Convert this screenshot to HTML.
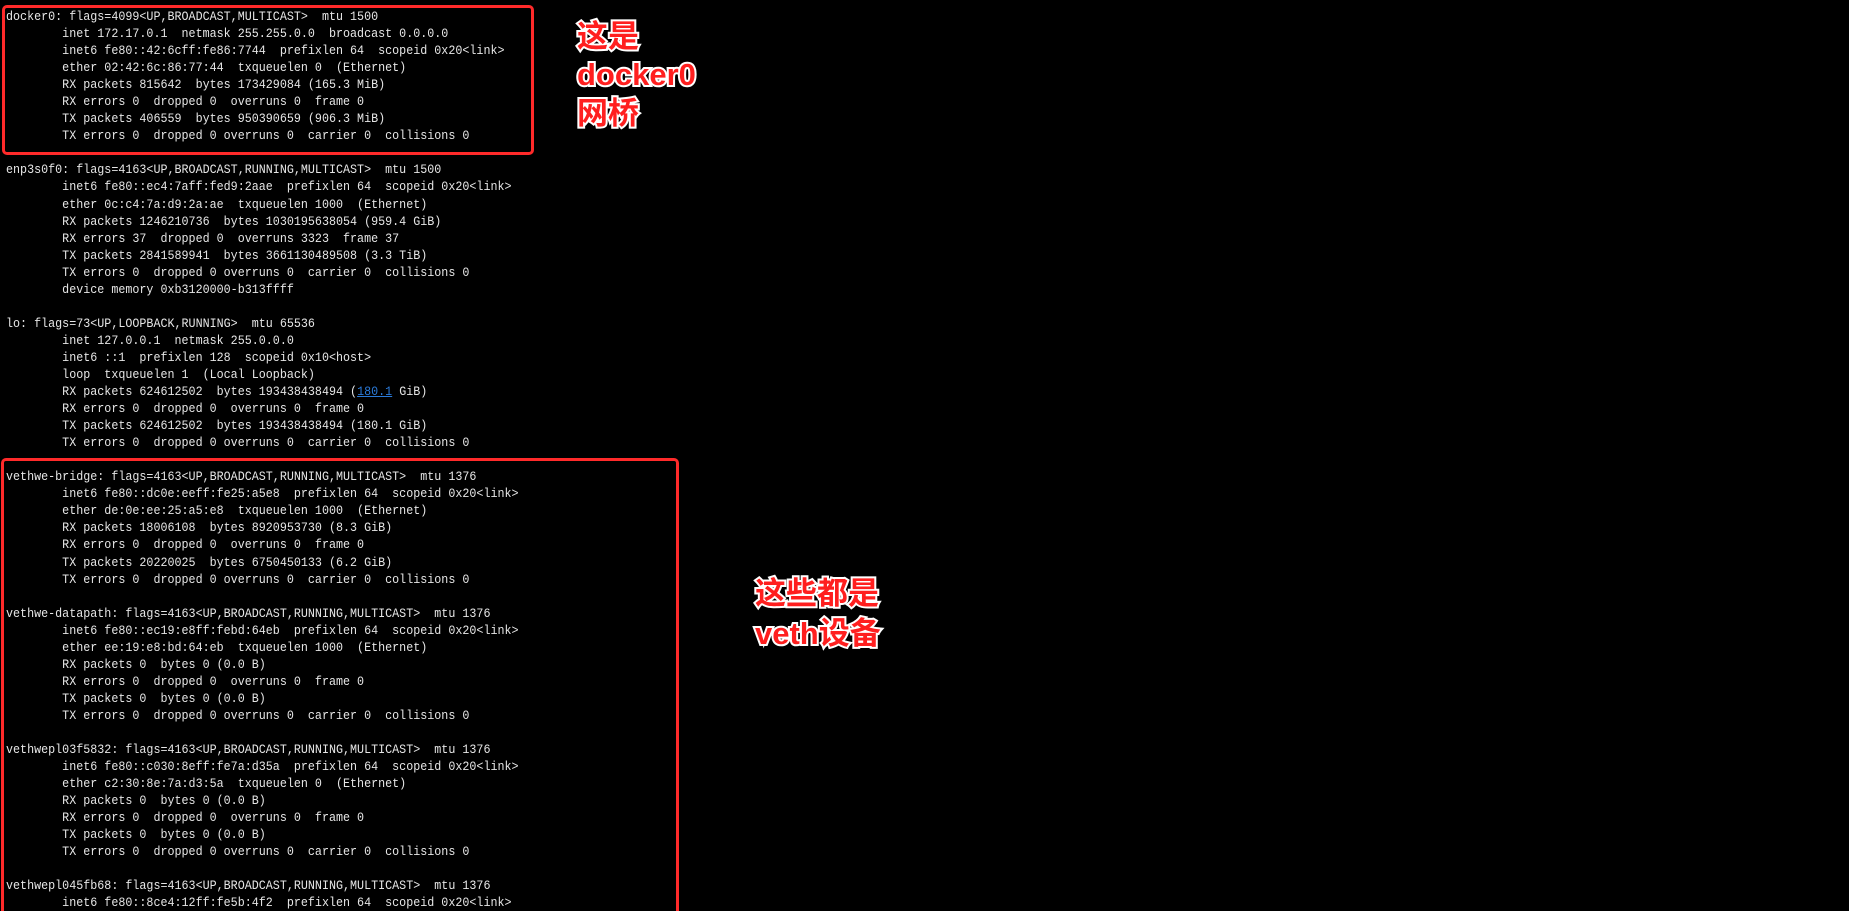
<!DOCTYPE html>
<html><head><meta charset="utf-8"><style>
html,body{margin:0;padding:0;background:#000;width:1849px;height:911px;overflow:hidden;position:relative}
pre{position:absolute;left:6px;top:8px;margin:0;font-family:"Liberation Mono",monospace;font-size:13px;line-height:17.05px;color:#e6e6e6;transform:scaleX(0.9);transform-origin:0 0}
a{color:#2a7ad9;text-decoration:underline}
.box{position:absolute;border:3px solid #ff2a2a;border-radius:5px;box-sizing:border-box}
.ann{position:absolute;font-family:"Liberation Sans","Noto Sans CJK SC",sans-serif;font-weight:bold;font-size:31px;color:#ff1f1f;-webkit-text-stroke:4px #fff;paint-order:stroke fill;line-height:1}
</style></head><body>
<pre>docker0: flags=4099&lt;UP,BROADCAST,MULTICAST&gt;  mtu 1500
        inet 172.17.0.1  netmask 255.255.0.0  broadcast 0.0.0.0
        inet6 fe80::42:6cff:fe86:7744  prefixlen 64  scopeid 0x20&lt;link&gt;
        ether 02:42:6c:86:77:44  txqueuelen 0  (Ethernet)
        RX packets 815642  bytes 173429084 (165.3 MiB)
        RX errors 0  dropped 0  overruns 0  frame 0
        TX packets 406559  bytes 950390659 (906.3 MiB)
        TX errors 0  dropped 0 overruns 0  carrier 0  collisions 0

enp3s0f0: flags=4163&lt;UP,BROADCAST,RUNNING,MULTICAST&gt;  mtu 1500
        inet6 fe80::ec4:7aff:fed9:2aae  prefixlen 64  scopeid 0x20&lt;link&gt;
        ether 0c:c4:7a:d9:2a:ae  txqueuelen 1000  (Ethernet)
        RX packets 1246210736  bytes 1030195638054 (959.4 GiB)
        RX errors 37  dropped 0  overruns 3323  frame 37
        TX packets 2841589941  bytes 3661130489508 (3.3 TiB)
        TX errors 0  dropped 0 overruns 0  carrier 0  collisions 0
        device memory 0xb3120000-b313ffff

lo: flags=73&lt;UP,LOOPBACK,RUNNING&gt;  mtu 65536
        inet 127.0.0.1  netmask 255.0.0.0
        inet6 ::1  prefixlen 128  scopeid 0x10&lt;host&gt;
        loop  txqueuelen 1  (Local Loopback)
        RX packets 624612502  bytes 193438438494 (<a>180.1</a> GiB)
        RX errors 0  dropped 0  overruns 0  frame 0
        TX packets 624612502  bytes 193438438494 (180.1 GiB)
        TX errors 0  dropped 0 overruns 0  carrier 0  collisions 0

vethwe-bridge: flags=4163&lt;UP,BROADCAST,RUNNING,MULTICAST&gt;  mtu 1376
        inet6 fe80::dc0e:eeff:fe25:a5e8  prefixlen 64  scopeid 0x20&lt;link&gt;
        ether de:0e:ee:25:a5:e8  txqueuelen 1000  (Ethernet)
        RX packets 18006108  bytes 8920953730 (8.3 GiB)
        RX errors 0  dropped 0  overruns 0  frame 0
        TX packets 20220025  bytes 6750450133 (6.2 GiB)
        TX errors 0  dropped 0 overruns 0  carrier 0  collisions 0

vethwe-datapath: flags=4163&lt;UP,BROADCAST,RUNNING,MULTICAST&gt;  mtu 1376
        inet6 fe80::ec19:e8ff:febd:64eb  prefixlen 64  scopeid 0x20&lt;link&gt;
        ether ee:19:e8:bd:64:eb  txqueuelen 1000  (Ethernet)
        RX packets 0  bytes 0 (0.0 B)
        RX errors 0  dropped 0  overruns 0  frame 0
        TX packets 0  bytes 0 (0.0 B)
        TX errors 0  dropped 0 overruns 0  carrier 0  collisions 0

vethwepl03f5832: flags=4163&lt;UP,BROADCAST,RUNNING,MULTICAST&gt;  mtu 1376
        inet6 fe80::c030:8eff:fe7a:d35a  prefixlen 64  scopeid 0x20&lt;link&gt;
        ether c2:30:8e:7a:d3:5a  txqueuelen 0  (Ethernet)
        RX packets 0  bytes 0 (0.0 B)
        RX errors 0  dropped 0  overruns 0  frame 0
        TX packets 0  bytes 0 (0.0 B)
        TX errors 0  dropped 0 overruns 0  carrier 0  collisions 0

vethwepl045fb68: flags=4163&lt;UP,BROADCAST,RUNNING,MULTICAST&gt;  mtu 1376
        inet6 fe80::8ce4:12ff:fe5b:4f2  prefixlen 64  scopeid 0x20&lt;link&gt;</pre>
<div class="box" style="left:2px;top:5px;width:532px;height:150px"></div>
<div class="box" style="left:1px;top:458px;width:678px;height:470px"></div>
<div class="ann" style="left:577px;top:21px">这是</div>
<div class="ann" style="left:577px;top:59px">docker0</div>
<div class="ann" style="left:577px;top:98px">网桥</div>
<div class="ann" style="left:755px;top:578px">这些都是</div>
<div class="ann" style="left:755px;top:618px">veth设备</div>
</body></html>
